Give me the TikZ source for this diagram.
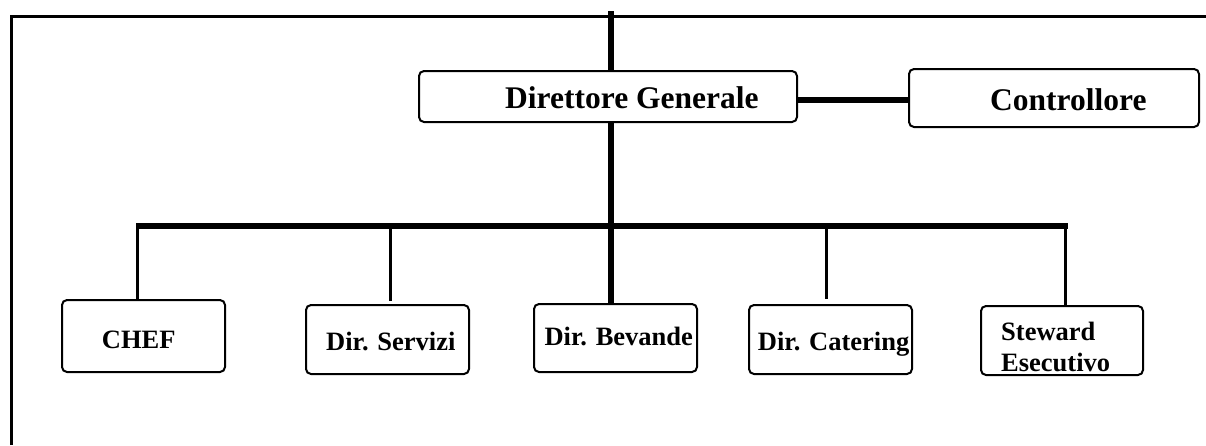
\documentclass[tikz,border=0pt]{standalone}
\usepackage{fontspec}
\setmainfont{Liberation Serif}
\begin{document}
\begin{tikzpicture}[x=1pt,y=-1pt,
  box/.style={draw, line width=2pt, rounded corners=5pt, inner sep=0pt, fill=white},
  big/.style={inner sep=0pt, anchor=base west, font=\fontsize{31.5}{37}\selectfont\bfseries},
  small/.style={inner sep=0pt, anchor=base west, font=\fontsize{26.5}{31.6}\selectfont\bfseries},
  drop/.style={line width=3pt},
  trunk/.style={line width=5.3pt},
  busline/.style={line width=6pt},
  frameline/.style={line width=3pt, line join=miter}]
\useasboundingbox (0,0) rectangle (1206,445);
% frame
\draw[frameline] (11.5,445) -- (11.5,16) -- (1206,16);
% boxes
\node[box, minimum width=378pt, minimum height=51pt] (dg) at (608,96.5) {};
\node[box, minimum width=290pt, minimum height=58pt] (ctl) at (1054,98) {};
\node[box, minimum width=163pt, minimum height=72pt] (chef) at (143.5,336) {};
\node[box, minimum width=163pt, minimum height=69pt] (ser) at (387.5,339.5) {};
\node[box, minimum width=163pt, minimum height=68pt] (bev) at (615.5,338) {};
\node[box, minimum width=163pt, minimum height=69pt] (cat) at (830.5,339.5) {};
\node[box, minimum width=162pt, minimum height=69pt] (stw) at (1062,340.5) {};
% texts
\node[big] (dgt) at (505,108.3) {Direttore Generale};
\node[big] (ctlt) at (990,110.5) {Controllore};
\node[small] (cheft) at (101.7,348.3) {CHEF};
\node[small] (sert) at (326,350) {Dir. Servizi};
\node[small] (bevt) at (544.3,345) {Dir. Bevande};
\node[small] (catt) at (757.7,350) {Dir. Catering};
\node[small] (stwa) at (1001,340) {Steward};
\node[small] (stwb) at (1001,371.7) {Esecutivo};
% connectors
\coordinate (top) at (611,11);
\coordinate (busL) at (136,226);
\coordinate (busR) at (1068,226);
\draw[trunk] (top) -- (top |- dg.north);
\draw[trunk] (top |- dg.south) -- (top |- bev.north);
\draw[busline] (dg.east |- 0,100.3) -- (ctl.west |- 0,100.3);
\draw[busline] (busL) -- (busR);
\draw[drop] (137.5,226) -- (137.5,0 |- chef.north);
\draw[drop] (390,226) -- (390,301);
\draw[drop] (826,226) -- (826,299);
\draw[drop] (1065.5,226) -- (1065.5,0 |- stw.north);
\end{tikzpicture}
\end{document}
